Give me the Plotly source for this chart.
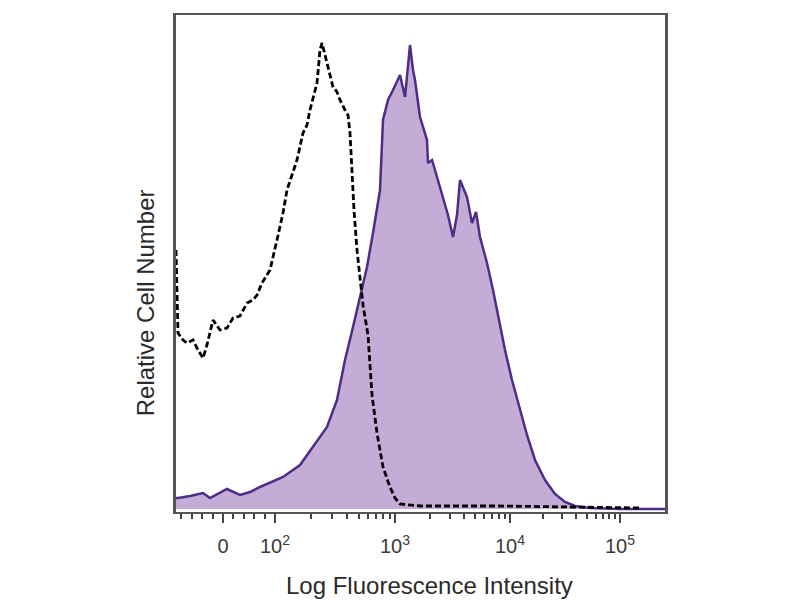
import numpy as np
import plotly.graph_objects as go

# Channel positions (display scale) of the axis tick values
tick_values = [0, 100, 1000, 10000, 100000]
tick_channels = [94, 198, 438, 668, 888]
tick_labels = ["0", "10<sup>2</sup>", "10<sup>3</sup>", "10<sup>4</sup>", "10<sup>5</sup>"]
x_title = "Log Fluorescence Intensity"
y_title = "Relative Cell Number"

# Stained sample (filled, solid purple) : channel, relative count
stained_x = [0, 4, 28, 54, 68, 84, 102, 128, 148, 168, 188, 214, 248, 274, 302, 322, 338, 354,
             368, 382, 394, 404, 408, 414, 424, 434, 442, 448, 458, 464, 468, 474, 478, 488,
             502, 504, 512, 518, 534, 544, 554, 562, 568, 576, 582, 592, 600, 608, 622, 634,
             648, 658, 672, 688, 702, 718, 738, 758, 778, 798, 828, 888, 978]
stained_y = [2.2, 2.2, 2.6, 3.2, 2.2, 3.0, 4.0, 2.8, 3.4, 4.4, 5.2, 6.4, 8.8, 12.4, 16.4, 21.8,
             29.8, 36.4, 42.4, 48.4, 55.2, 61.8, 63.8, 77.8, 81.8, 83.8, 85.4, 86.8, 82.4, 88.8,
             92.8, 87.8, 85.8, 78.4, 73.8, 69.2, 69.8, 67.8, 62.4, 58.8, 54.4, 58.8, 65.8, 63.8,
             62.4, 57.2, 59.4, 54.4, 49.2, 43.8, 36.4, 31.8, 25.8, 19.8, 14.8, 9.8, 5.8, 3.0,
             1.4, 0.6, 0.2, 0.0, 0.0]

# Isotype control (dashed black)
control_x = [0, 4, 14, 22, 34, 44, 54, 62, 74, 88, 102, 114, 128, 142, 154, 162, 172, 188,
             202, 214, 222, 232, 242, 254, 262, 268, 276, 282, 288, 292, 298, 302, 308, 314,
             322, 328, 338, 344, 348, 352, 356, 362, 368, 374, 384, 392, 402, 414, 428, 438,
             448, 488, 648, 848, 928]
control_y = [51.8, 35.2, 33.8, 33.2, 33.8, 31.8, 30.2, 32.8, 37.8, 35.8, 36.2, 38.2, 38.6,
             41.2, 41.8, 42.8, 45.2, 47.8, 53.8, 59.2, 63.8, 66.8, 69.8, 75.2, 76.8, 79.8,
             82.8, 85.2, 91.8, 93.2, 90.8, 89.2, 86.8, 84.4, 83.4, 81.8, 79.8, 78.8, 75.2,
             67.8, 59.8, 51.8, 45.8, 40.8, 34.8, 22.8, 15.2, 8.4, 4.4, 2.2, 1.0, 0.6, 0.6,
             0.4, 0.2]


def to_channel(v):
    """Biexponential-like display mapping built from the tick positions."""
    if v >= 100:
        return float(np.interp(np.log10(v), [2, 3, 4, 5], tick_channels[1:]))
    return tick_channels[0] + v / 100.0 * (tick_channels[1] - tick_channels[0])


minor_vals = [-80, -60, -40, -20, 20, 40, 60, 80]
for dec in [100, 1000, 10000]:
    minor_vals += [m * dec for m in range(2, 10)]
minor_channels = [to_channel(v) for v in minor_vals]
minor_channels = [c for c in minor_channels if 0 < c < 978]

FONT = "Liberation Sans, Arial, sans-serif"

fig = go.Figure()
fig.add_trace(go.Scatter(
    x=stained_x, y=stained_y, mode="lines", fill="tozeroy",
    fillcolor="rgb(196,172,214)",
    line=dict(color="rgb(78,45,135)", width=2.5, shape="linear"),
    showlegend=False, hoverinfo="skip"))
fig.add_trace(go.Scatter(
    x=control_x, y=control_y, mode="lines",
    line=dict(color="black", width=2.8, dash="6px,3px"),
    showlegend=False, hoverinfo="skip"))

fig.update_layout(
    width=800, height=600,
    margin=dict(l=176, r=135, t=15, b=88, autoexpand=False),
    paper_bgcolor="white", plot_bgcolor="white",
    font=dict(family=FONT, color="#2a2a2a"),
    xaxis=dict(
        range=[0, 978], showgrid=False, zeroline=False, automargin=False,
        showline=True, linecolor="#555555", linewidth=2, mirror=True,
        tickmode="array", tickvals=tick_channels, ticktext=tick_labels,
        ticks="outside", ticklen=9, tickwidth=2, tickcolor="#444444",
        ticklabelstandoff=6,
        tickfont=dict(size=20, color="#3a3a3a"),
        minor=dict(tickmode="array", tickvals=minor_channels, ticks="outside",
                   ticklen=5, tickwidth=1.5, tickcolor="#444444", showgrid=False),
    ),
    yaxis=dict(
        range=[-0.6, 98.8], showgrid=False, zeroline=False, automargin=False,
        showline=True, linecolor="#555555", linewidth=3, mirror=True,
        showticklabels=False, ticks="",
    ),
    annotations=[
        dict(text=x_title, xref="paper", yref="paper", x=0.018 + 0.5, y=0,
             yshift=-73, xanchor="center", yanchor="middle", showarrow=False,
             font=dict(size=24, color="#2a2a2a")),
        dict(text=y_title, xref="paper", yref="paper", x=0, y=0.42,
             xshift=-31, xanchor="center", yanchor="middle", textangle=-90,
             showarrow=False, font=dict(size=24, color="#2a2a2a")),
    ],
)

fig.write_html("out.html", post_script="document.body.style.margin='0';",
               config={"displayModeBar": False})
